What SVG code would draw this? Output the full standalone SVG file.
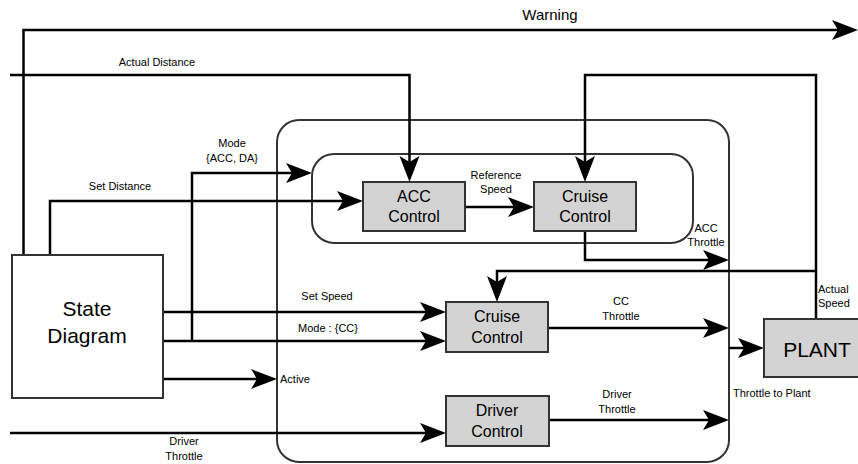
<svg xmlns="http://www.w3.org/2000/svg" width="858" height="464" viewBox="0 0 858 464">
<defs>
<style>
.box{fill:#d3d3d3;stroke:#333;stroke-width:2}
.wbox{fill:#fff;stroke:#333;stroke-width:2}
.grp{fill:none;stroke:#333;stroke-width:2}
.ln{fill:none;stroke:#000;stroke-width:2.5}
.arr{fill:none;stroke:#000;stroke-width:2.5;marker-end:url(#ah)}
text{font-family:"Liberation Sans",Arial,sans-serif;fill:#000}
.s{font-size:11px}
.b{font-size:16px;text-anchor:middle}
.m{text-anchor:middle}
</style>
<marker id="ah" markerUnits="userSpaceOnUse" markerWidth="27" markerHeight="22" refX="20" refY="10" orient="auto" viewBox="0 0 27 20">
<path d="M0,0 L26,10 L0,20 L6,10 Z" fill="#000"/>
</marker>
</defs>
<rect width="858" height="464" fill="#fff"/>
<g id="controller">
<rect class="grp" x="277" y="120" width="452" height="342" rx="22"/>
</g>
<g id="acc-group">
<rect class="grp" x="312" y="154" width="381" height="89" rx="22"/>
</g>
<g id="connectors">
<path class="arr" d="M23.5,255 V30 H852"/>
<path class="arr" d="M10,75 H409.5 V176"/>
<path class="arr" d="M192,341 V173 H306"/>
<path class="arr" d="M50,255 V201 H357"/>
<path class="arr" d="M465,207 H528"/>
<path class="arr" d="M816,319 V75 H585 V176"/>
<path class="arr" d="M816,271 H497 V296"/>
<path class="arr" d="M585,231 V260 H723"/>
<path class="arr" d="M163,312 H440"/>
<path class="arr" d="M163,341 H440"/>
<path class="arr" d="M163,379 H271"/>
<path class="arr" d="M10,433 H440"/>
<path class="arr" d="M548,328 H723"/>
<path class="arr" d="M549,420 H723"/>
<path class="arr" d="M729,348 H758"/>
<text x="550" y="20" font-size="15" text-anchor="middle">Warning</text>
<text class="s m" x="157" y="66">Actual Distance</text>
<text class="s m" x="232" y="147">Mode</text>
<text class="s m" x="232" y="162">{ACC, DA}</text>
<text class="s m" x="120" y="190">Set Distance</text>
<text class="s m" x="496" y="179">Reference</text>
<text class="s m" x="496" y="193">Speed</text>
<text class="s m" x="706" y="232">ACC</text>
<text class="s m" x="706" y="246">Throttle</text>
<text class="s" x="818" y="293">Actual</text>
<text class="s" x="818" y="307">Speed</text>
<text class="s m" x="327" y="300">Set Speed</text>
<text class="s m" x="328" y="332">Mode : {CC}</text>
<text class="s" x="280" y="383">Active</text>
<text class="s m" x="621" y="305">CC</text>
<text class="s m" x="621" y="320">Throttle</text>
<text class="s m" x="617" y="398">Driver</text>
<text class="s m" x="617" y="413">Throttle</text>
<text class="s" x="733" y="397">Throttle to Plant</text>
<text class="s m" x="184" y="445">Driver</text>
<text class="s m" x="184" y="460">Throttle</text>
</g>
<g id="acc-control">
<rect class="box" x="363" y="182" width="102" height="49"/>
<text class="b" x="414" y="202">ACC</text>
<text class="b" x="414" y="222">Control</text>
</g>
<g id="cruise-control-acc">
<rect class="box" x="534" y="182" width="102" height="49"/>
<text class="b" x="585" y="202">Cruise</text>
<text class="b" x="585" y="222">Control</text>
</g>
<g id="cruise-control">
<rect class="box" x="446" y="302" width="102" height="50"/>
<text class="b" x="497" y="322">Cruise</text>
<text class="b" x="497" y="343">Control</text>
</g>
<g id="driver-control">
<rect class="box" x="446" y="396" width="103" height="50"/>
<text class="b" x="497" y="416">Driver</text>
<text class="b" x="497" y="437">Control</text>
</g>
<g id="state-diagram">
<rect class="wbox" x="12" y="255" width="151" height="143"/>
<text x="87" y="316" font-size="21" text-anchor="middle">State</text>
<text x="87" y="343" font-size="21" text-anchor="middle">Diagram</text>
</g>
<g id="plant">
<rect class="box" x="764" y="319" width="100" height="58"/>
<text x="817" y="357" font-size="21" text-anchor="middle">PLANT</text>
</g>
</svg>
